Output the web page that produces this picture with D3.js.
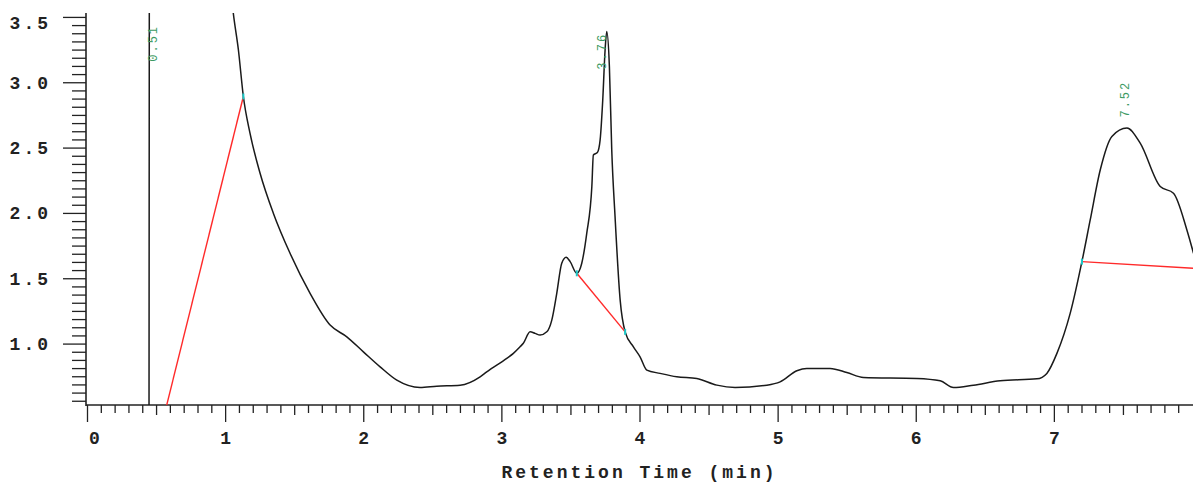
<!DOCTYPE html>
<html><head><meta charset="utf-8">
<script src="https://cdn.jsdelivr.net/npm/d3@7"></script>
<style>body{margin:0;background:#fff;} svg{display:block;}</style>
</head><body><svg id="chart" width="1193" height="483"></svg>
<script>
// ---- data ----
const times = [0.00, 0.449, 0.452, 0.60, 0.90, 1.00, 1.059, 1.096, 1.132, 1.180, 1.253, 1.349, 1.470, 1.615, 1.760, 1.881, 2.001, 2.122, 2.243, 2.411, 2.532, 2.701, 2.846, 2.894, 3.039, 3.087, 3.135, 3.159, 3.208, 3.244, 3.280, 3.329, 3.365, 3.401, 3.437, 3.469, 3.498, 3.546, 3.582, 3.618, 3.655, 3.666, 3.695, 3.715, 3.734, 3.751, 3.763, 3.782, 3.799, 3.823, 3.860, 3.896, 3.956, 4.004, 4.053, 4.149, 4.270, 4.415, 4.560, 4.692, 4.922, 5.018, 5.139, 5.211, 5.380, 5.501, 5.621, 6.008, 6.177, 6.273, 6.418, 6.611, 6.877, 6.949, 7.022, 7.118, 7.203, 7.263, 7.336, 7.420, 7.529, 7.625, 7.770, 7.866, 7.963, 8.011];
const signal = [0.45, 0.45, 5.0, 7.0, 4.8, 4.2, 3.530, 3.249, 2.891, 2.611, 2.304, 1.998, 1.691, 1.385, 1.142, 1.052, 0.937, 0.822, 0.720, 0.664, 0.674, 0.682, 0.746, 0.784, 0.887, 0.925, 0.975, 1.002, 1.090, 1.078, 1.065, 1.090, 1.180, 1.385, 1.615, 1.661, 1.627, 1.538, 1.615, 1.844, 2.202, 2.444, 2.462, 2.559, 2.866, 3.249, 3.389, 3.121, 2.483, 1.972, 1.333, 1.090, 0.975, 0.899, 0.797, 0.772, 0.746, 0.733, 0.682, 0.664, 0.682, 0.707, 0.792, 0.810, 0.810, 0.779, 0.741, 0.733, 0.715, 0.664, 0.682, 0.715, 0.730, 0.772, 0.925, 1.231, 1.627, 1.946, 2.330, 2.585, 2.649, 2.534, 2.202, 2.151, 1.870, 1.691];

const baselineStartT = [0.577, 3.546, 7.203];
const baselineStartV = [0.529, 1.538, 1.627];
const baselineEndT   = [1.132, 3.896, 8.011];
const baselineEndV   = [2.891, 1.090, 1.576];
const markStart = [false, true, true];
const markEnd   = [true, true, false];

const peakLabels = ["0.51", "3.76", "7.52"];
const peakLabelT = [0.485, 3.736, 7.524];
const peakLabelV = [3.157, 3.096, 2.730];

const xTickValues = [0, 1, 2, 3, 4, 5, 6, 7];
const yTickValues = [1.0, 1.5, 2.0, 2.5, 3.0, 3.5];
const xAxisTitle = "Retention Time (min)";

// ---- layout ----
const svg = d3.select("#chart");
const L = 87, R = 1193, T = 13, B = 405;
const x = d3.scaleLinear().domain([0, 8]).range([L, 1192]);
const y = d3.scaleLinear().domain([0.53, 3.53]).range([B, T]);
const FONT = "'Liberation Mono','Courier New',monospace";
const INK = "#222";

svg.append("defs").append("clipPath").attr("id", "plotclip")
  .append("rect").attr("x", L).attr("y", T).attr("width", R - L).attr("height", B - T);

// x axis minor/half/major ticks
const xMinor = d3.range(1, 80).map(i => i / 10).filter(v => Math.abs(v * 2 - Math.round(v * 2)) > 1e-6);
const xHalf = d3.range(0, 8).map(i => i + 0.5);
const gx = svg.append("g").attr("transform", `translate(0,${B})`);
gx.append("g").call(d3.axisBottom(x).tickValues(xMinor).tickSize(8).tickFormat(""));
gx.append("g").call(d3.axisBottom(x).tickValues(xHalf).tickSize(10).tickFormat(""));
const gxMaj = gx.append("g").call(d3.axisBottom(x).tickValues(xTickValues).tickSize(17).tickPadding(9).tickFormat(d3.format("d")));
gx.selectAll(".domain").remove();
gx.selectAll("line").attr("stroke", INK).attr("stroke-width", 1.3);
gxMaj.selectAll("text").attr("font-family", FONT).attr("font-weight", "bold")
  .attr("font-size", 18).attr("fill", INK)
  .attr("dx", (d, i) => i === 0 ? 7 : 0);

// y axis ticks
const yMinor = d3.range(9, 57).map(i => i * 0.0625).filter(v => v > 0.53 && v < 3.53 && Math.abs(v * 2 - Math.round(v * 2)) > 1e-6);
const gy = svg.append("g").attr("transform", `translate(${L - 1},0)`);
gy.append("g").call(d3.axisLeft(y).tickValues(yMinor).tickSize(14).tickFormat(""));
const gyMaj = gy.append("g").call(d3.axisLeft(y).tickValues(yTickValues).tickSize(23).tickPadding(12).tickFormat(d3.format(".1f")));
gy.selectAll(".domain").remove();
gy.selectAll("line").attr("stroke", INK).attr("stroke-width", 1.3);
gyMaj.selectAll("text").attr("font-family", FONT).attr("font-weight", "bold")
  .attr("font-size", 18).attr("fill", INK).attr("letter-spacing", 3)
  .attr("dy", (d) => d === 3.5 ? "0.65em" : "0.32em");

// axis lines
svg.append("line").attr("x1", L - 1).attr("x2", L - 1).attr("y1", T).attr("y2", B + 1)
  .attr("stroke", INK).attr("stroke-width", 1.6);
svg.append("line").attr("x1", L - 1).attr("x2", R).attr("y1", B).attr("y2", B)
  .attr("stroke", INK).attr("stroke-width", 1.6);

// x axis title
svg.append("text").attr("x", x(4)).attr("y", 478).attr("text-anchor", "middle")
  .attr("font-family", FONT).attr("font-weight", "bold").attr("font-size", 18)
  .attr("letter-spacing", 3).attr("fill", INK).text(xAxisTitle);

// plot
const plot = svg.append("g").attr("clip-path", "url(#plotclip)");
const pts = times.map((t, i) => [t, signal[i]]);
plot.append("path").datum(pts)
  .attr("d", d3.line().curve(d3.curveMonotoneX).x(d => x(d[0])).y(d => y(d[1])))
  .attr("fill", "none").attr("stroke", "#1a1a1a").attr("stroke-width", 1.5)
  .attr("stroke-linejoin", "round");

// baselines
baselineStartT.forEach((t0, i) => {
  plot.append("line")
    .attr("x1", x(t0)).attr("y1", y(baselineStartV[i]))
    .attr("x2", x(baselineEndT[i])).attr("y2", y(baselineEndV[i]))
    .attr("stroke", "#ff2a2a").attr("stroke-width", 1.4);
  if (markStart[i]) plot.append("line")
    .attr("x1", x(t0)).attr("x2", x(t0))
    .attr("y1", y(baselineStartV[i]) - 3).attr("y2", y(baselineStartV[i]) + 3)
    .attr("stroke", "#19c8c8").attr("stroke-width", 2);
  if (markEnd[i]) plot.append("line")
    .attr("x1", x(baselineEndT[i])).attr("x2", x(baselineEndT[i]))
    .attr("y1", y(baselineEndV[i]) - 3).attr("y2", y(baselineEndV[i]) + 3)
    .attr("stroke", "#19c8c8").attr("stroke-width", 2);
});

// peak labels
peakLabels.forEach((lab, i) => {
  const px = x(peakLabelT[i]), py = y(peakLabelV[i]);
  svg.append("text")
    .attr("transform", `translate(${px},${py}) rotate(-90)`)
    .attr("dominant-baseline", "central")
    .attr("font-family", FONT).attr("font-size", 12).attr("letter-spacing", 2)
    .attr("fill", "#3c9a62").text(lab);
});
</script>
</body></html>
